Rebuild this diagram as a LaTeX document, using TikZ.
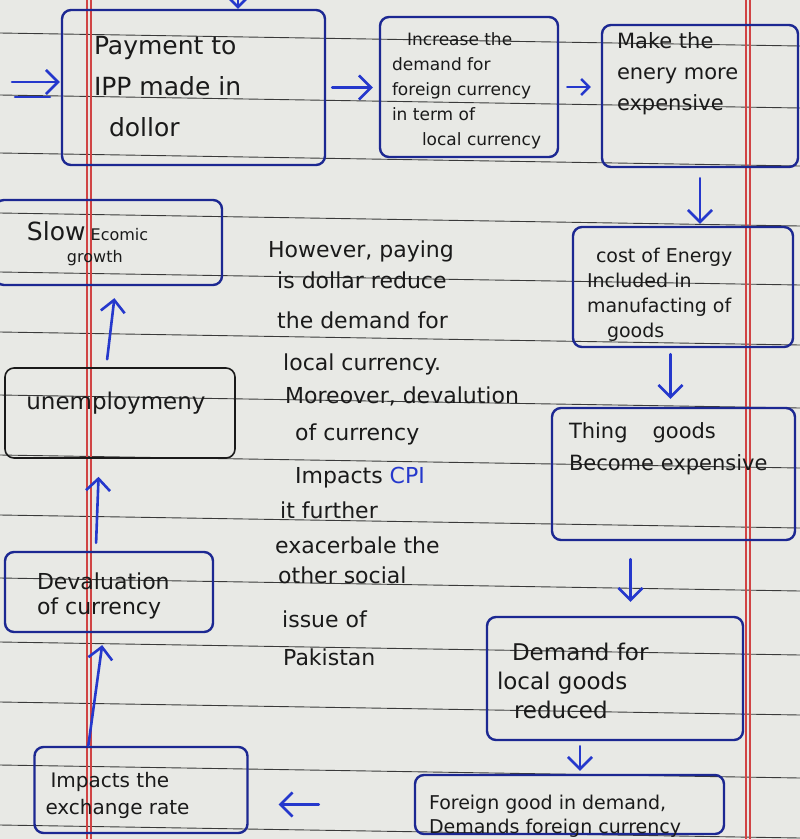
\documentclass[tikz,border=0pt]{standalone}
\usepackage{fontspec}
\setmainfont{DejaVu Sans}
\usetikzlibrary{arrows.meta,calc}
\definecolor{paper}{HTML}{E8E9E5}
\definecolor{ink}{HTML}{1C2892}
\definecolor{arrowblue}{HTML}{2538CC}
\definecolor{ruleline}{HTML}{3A3A3A}
\definecolor{marginred}{HTML}{D04444}
\definecolor{pen}{HTML}{1A1A1A}
\newcommand\myfs[2]{\fontsize{#1}{#2}\selectfont}
\begin{document}
\begin{tikzpicture}[x=1pt,y=-1pt,
  box/.style={draw=ink, line width=2.4pt, rounded corners=9pt, inner sep=0pt},
  penbox/.style={draw=pen, line width=1.6pt, rounded corners=9pt, inner sep=0pt},
  lbl/.style={anchor=north west, align=left, inner sep=0pt, text=pen},
  arr/.style={draw=arrowblue, line width=2.6pt, line cap=round, -{Straight Barb[length=12pt,width=24pt]}},
  arrsmall/.style={draw=arrowblue, line width=2.4pt, line cap=round, -{Straight Barb[length=8pt,width=16pt]}},
  midtext/.style={anchor=base west, inner sep=0pt, text=pen, font=\myfs{22}{26}},
  ruled/.style={draw=ruleline, line width=0.9pt},
  margin/.style={draw=marginred, line width=1.1pt}]
\useasboundingbox (0,0) rectangle (800,839);
\fill[paper] (0,0) rectangle (800,839);
% ruled lines
\foreach \y in {33,95,153,213,272,332,395,455,515,578,642,702,765,825}
  \draw[ruled] (0,\y) -- (800,{\y+13});
% margins
\draw[margin] (87,0) -- (87,839);
\draw[margin] (91,0) -- (91,839);
\draw[margin] (746,0) -- (746,839);
\draw[margin] (750,0) -- (750,839);

% boxes
\node[box, minimum width=263pt, minimum height=155pt,
  label={[lbl, font=\myfs{25}{41}, xshift=33pt, yshift=-27pt]north west:{Payment to\\IPP made in\\\hspace{15pt}dollor}}]
  (b1) at (193.5,87.5) {};
\node[box, minimum width=178pt, minimum height=140pt,
  label={[lbl, font=\myfs{17}{25}, xshift=13pt, yshift=-17pt]north west:{\hspace{15pt}Increase the\\demand for\\foreign currency\\in term of\\\hspace{30pt}local currency}}]
  (b2) at (469,87) {};
\node[box, minimum width=196pt, minimum height=142pt,
  label={[lbl, font=\myfs{21}{31}, xshift=16pt, yshift=-9pt]north west:{Make the\\enery more\\expensive}}]
  (b3) at (700,96) {};
\node[box, minimum width=220pt, minimum height=120pt,
  label={[lbl, font=\myfs{19}{25}, xshift=15pt, yshift=-22pt]north west:{\hspace{9pt}cost of Energy\\Included in\\manufacting of\\\hspace{20pt}goods}}]
  (b4) at (683,287) {};
\node[box, minimum width=243pt, minimum height=132pt,
  label={[lbl, font=\myfs{21}{32}, xshift=18pt, yshift=-16pt]north west:{Thing\hspace{25pt}goods\\Become expensive}}]
  (b5) at (673.5,474) {};
\node[box, minimum width=256pt, minimum height=123pt,
  label={[lbl, font=\myfs{23}{29}, xshift=11pt, yshift=-27pt]north west:{\hspace{15pt}Demand for\\local goods\\\hspace{17pt}reduced}}]
  (b6) at (615,678.5) {};
\node[box, minimum width=309pt, minimum height=59pt,
  label={[lbl, font=\myfs{19}{24}, xshift=15pt, yshift=-21pt]north west:{Foreign good in demand,\\Demands foreign currency}}]
  (b7) at (569.5,804.5) {};
\node[box, minimum width=213pt, minimum height=86pt,
  label={[lbl, font=\myfs{20}{27}, xshift=12pt, yshift=-26pt]north west:{\hspace{5pt}Impacts the\\exchange rate}}]
  (b8) at (141,790) {};
\node[box, minimum width=208pt, minimum height=80pt,
  label={[lbl, font=\myfs{22}{25}, xshift=33pt, yshift=-22pt]north west:{Devaluation\\of currency}}]
  (b9) at (109,592) {};
\node[penbox, minimum width=230pt, minimum height=90pt,
  label={[lbl, font=\myfs{23}{28}, xshift=22pt, yshift=-25pt]north west:{unemploymeny}}]
  (b10) at (120,413) {};
\node[box, minimum width=227pt, minimum height=85pt,
  label={[lbl, font=\myfs{16}{22}, xshift=33pt, yshift=-22pt]north west:{{\fontsize{25}{22}\selectfont Slow} Ecomic\\\hspace{40pt}growth}}]
  (b11) at (108.5,242.5) {};

% middle text
\node[midtext] (m1) at (268,257) {However, paying};
\node[midtext] (m2) at (277,288) {is dollar reduce};
\node[midtext] (m3) at (277,328) {the demand for};
\node[midtext] (m4) at (283,370) {local currency.};
\node[midtext] (m5) at (285,403) {Moreover, devalution};
\node[midtext] (m6) at (295,440) {of currency};
\node[midtext] (m7) at (295,483) {Impacts \textcolor{arrowblue}{CPI}};
\node[midtext] (m8) at (280,518) {it further};
\node[midtext] (m9) at (275,553) {exacerbale the};
\node[midtext] (m10) at (278,583) {other social};
\node[midtext] (m11) at (282,627) {issue of};
\node[midtext] (m12) at (283,665) {Pakistan};

% connectors
\coordinate (topin) at (238,-30);
\draw[arr] (topin) -- (topin |- b1.north);
\coordinate (in1) at (12,82);
\coordinate (in2) at (15,97);
\coordinate (in3) at (50,97);
\draw[arr, shorten >=1pt] (in1) -- (in1 -| b1.west);
\draw[arrowblue, line width=2.6pt, line cap=round] (in2) -- (in3);

\draw[arr, shorten <=6pt, shorten >=6pt] (b1.east) -- (b1.east -| b2.west);
\draw[arrsmall, shorten <=8pt, shorten >=10pt] (b2.east) -- (b2.east -| b3.west);
\draw[arr, shorten <=10pt, shorten >=2pt] (b3.south) -- (b3.south |- b4.north);
\coordinate (a45) at ($(b5.north)+(-3,0)$);
\draw[arr, shorten <=6pt, shorten >=8pt] (a45 |- b4.south) -- (a45);
\coordinate (a56) at ($(b5.south)+(-43,0)$);
\draw[arr, shorten <=18pt, shorten >=14pt] (a56) -- (a56 |- b6.north);
\coordinate (a67) at ($(b6.south)+(-35,0)$);
\draw[arr, shorten <=5pt, shorten >=3pt] (a67) -- (a67 |- b7.north);
\draw[arr, shorten <=95pt, shorten >=30pt] (b7.west) -- (b7.west -| b8.east);
\coordinate (a89s) at ($(b8.north west)+(55,0)$);
\coordinate (a89t) at ($(b9.south west)+(100,0)$);
\draw[arr, shorten >=12pt] (a89s) -- (a89t);
\coordinate (a910s) at ($(b9.north west)+(92,0)$);
\coordinate (a910t) at ($(b10.south west)+(95,0)$);
\draw[arr, shorten <=8pt, shorten >=18pt] (a910s) -- (a910t);
\coordinate (a1011s) at ($(b10.north west)+(102,0)$);
\coordinate (a1011t) at ($(b11.south west)+(122,0)$);
\draw[arr, shorten <=8pt, shorten >=12pt] (a1011s) -- (a1011t);
\end{tikzpicture}
\end{document}
